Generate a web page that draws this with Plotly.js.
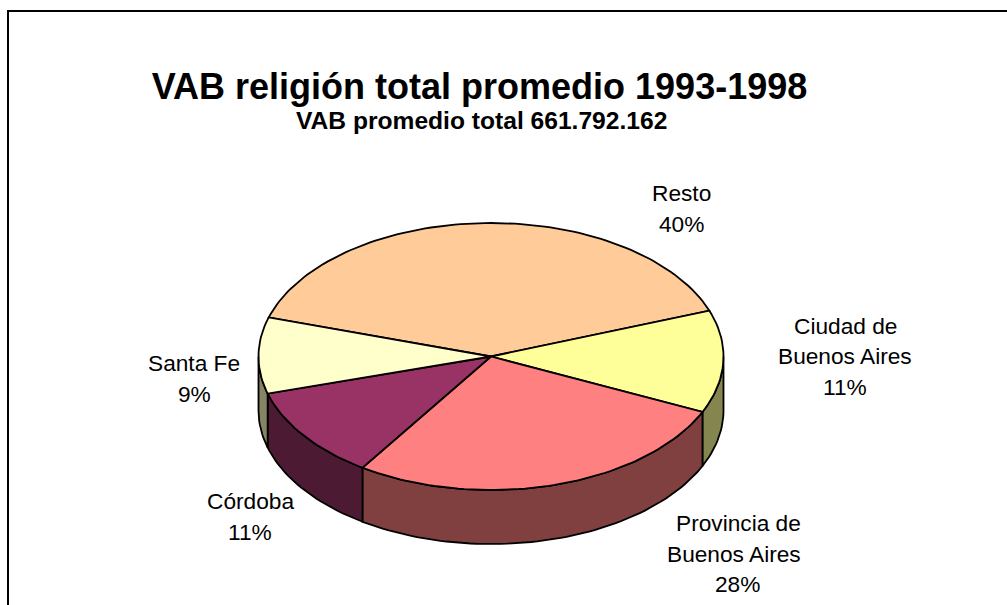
<!DOCTYPE html>
<html>
<head>
<meta charset="utf-8">
<script src="https://cdn.plot.ly/plotly-3.0.1.min.js"></script>
<style>html,body{margin:0;padding:0;background:#fff}#chart{width:1007px;height:605px}</style>
</head>
<body>
<div id="chart"></div>
<script>
// Data
var categories = ["Resto", "Ciudad de Buenos Aires", "Provincia de Buenos Aires", "Córdoba", "Santa Fe"];
var shares = [39.7, 12.4, 27.5, 11.2, 9.2];
var labelLines = [["Resto", "40%"], ["Ciudad de", "Buenos Aires", "11%"], ["Provincia de", "Buenos Aires", "28%"], ["Córdoba", "11%"], ["Santa Fe", "9%"]];
var topColors = ["#FFCC99", "#FFFF99", "#FF8080", "#993366", "#FFFFCC"];
var sideColors = ["#80664D", "#85854F", "#804040", "#4D1A33", "#858566"];

// Layout of the tilted pie
var cx = 491, cy = 356.5, rx = 232.5, ry = 133.5, depth = 54, startDeg = 197;
var labelX = [[681, 681], [845, 845, 845], [738, 734, 737], [250, 250], [194, 194]];
var labelY = [193, 325.5, 523, 501, 363];
var lineGap = 30.5;

function pt(deg, drop) {
  var a = deg * Math.PI / 180;
  return [cx + rx * Math.cos(a), cy + ry * Math.sin(a) + drop];
}
function arc(from, to, drop) {
  var out = [], n = Math.max(2, Math.ceil(Math.abs(to - from) / 1.5));
  for (var i = 0; i <= n; i++) out.push(pt(from + (to - from) * i / n, drop));
  return out;
}
function poly(points, fill, name) {
  return {
    type: "scatter", mode: "lines", fill: "toself", fillcolor: fill, name: name,
    x: points.map(function (p) { return p[0]; }),
    y: points.map(function (p) { return p[1]; }),
    line: { color: "#000", width: 1.8 }, hoverinfo: "name", showlegend: false
  };
}

var total = shares.reduce(function (a, b) { return a + b; }, 0);
var spans = [], cur = startDeg;
shares.forEach(function (v) { spans.push([cur, cur + v / total * 360]); cur += v / total * 360; });

var walls = [], tops = [];
spans.forEach(function (s, i) {
  // visible rim: the front half of the ellipse (0..180 and 360..540)
  [[0, 180], [360, 540]].forEach(function (w) {
    var a = Math.max(s[0], w[0]), b = Math.min(s[1], w[1]);
    if (b > a) {
      walls.push(poly(arc(a, b, 0).concat(arc(b, a, depth)).concat([pt(a, 0)]), sideColors[i], categories[i]));
    }
  });
  tops.push(poly([[cx, cy]].concat(arc(s[0], s[1], 0)).concat([[cx, cy]]), topColors[i], categories[i]));
});

var annotations = [{
  x: 481, y: 120, xref: "x", yref: "y", showarrow: false, xanchor: "center", yanchor: "middle",
  text: "<b>VAB promedio total 661.792.162</b>",
  font: { family: "Liberation Sans", size: 24.6, color: "#000" }
}];
labelLines.forEach(function (lines, i) {
  lines.forEach(function (t, j) {
    annotations.push({
      x: labelX[i][j], y: labelY[i] + j * lineGap, xref: "x", yref: "y", showarrow: false,
      xanchor: "center", yanchor: "middle", text: t,
      font: { family: "Liberation Sans", size: 22.7, color: "#000" }
    });
  });
});

var layout = {
  width: 1007, height: 605,
  margin: { l: 0, r: 0, t: 0, b: 0 },
  paper_bgcolor: "#fff", plot_bgcolor: "#fff",
  showlegend: false,
  title: {
    text: "<b>VAB religión total promedio 1993-1998</b>",
    font: { family: "Liberation Sans", size: 36, color: "#000" },
    x: 479.5 / 1007, xanchor: "center", y: 1 - 86 / 605, yanchor: "middle"
  },
  xaxis: { range: [0, 1007], visible: false, fixedrange: true },
  yaxis: { range: [605, 0], visible: false, fixedrange: true },
  annotations: annotations,
  shapes: [
    { type: "line", xref: "x", yref: "y", x0: 8, y0: 11, x1: 1007, y1: 11, line: { color: "#000", width: 2 } },
    { type: "line", xref: "x", yref: "y", x0: 8, y0: 10, x1: 8, y1: 605, line: { color: "#000", width: 2 } }
  ]
};

Plotly.newPlot("chart", walls.concat(tops), layout, { displayModeBar: false, staticPlot: true });
</script>
</body>
</html>
